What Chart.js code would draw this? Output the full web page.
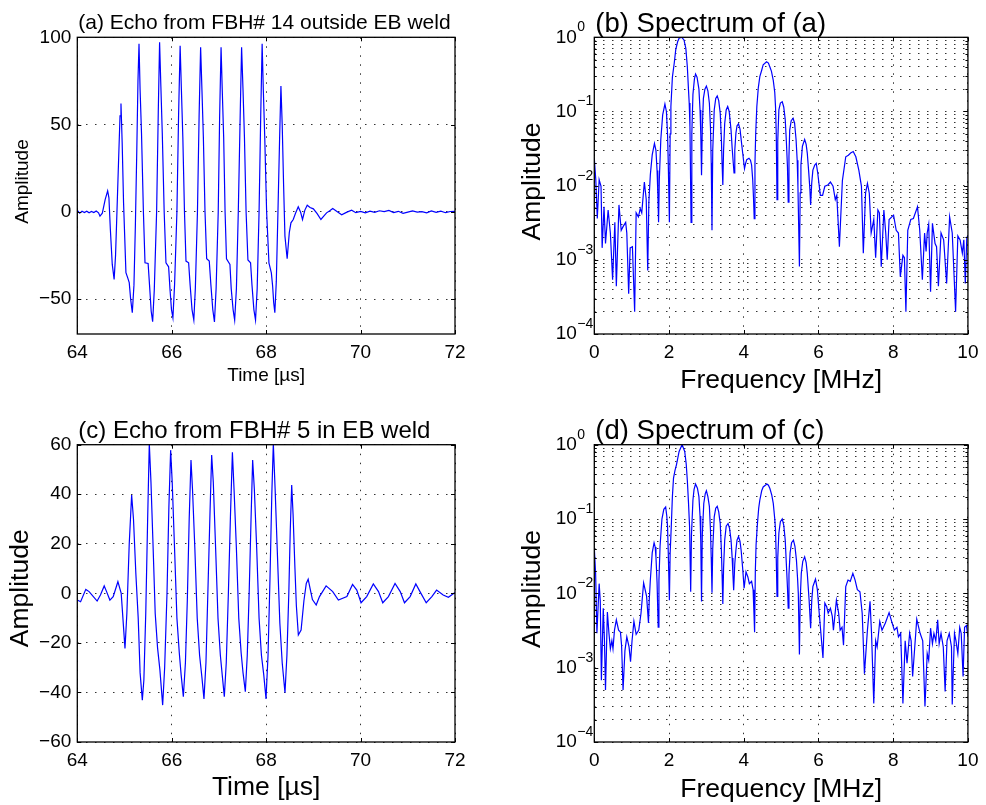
<!DOCTYPE html>
<html>
<head>
<meta charset="utf-8">
<title>Echoes and spectra</title>
<script src="https://cdn.jsdelivr.net/npm/chart.js@4.4.1/dist/chart.umd.min.js"></script>
<style>
  html, body { margin: 0; padding: 0; background: #fff; }
  #fig { position: relative; width: 986px; height: 805px; }
  #fig canvas { position: absolute; }
</style>
</head>
<body>
<div id="fig">
  <canvas id="panelA" width="493" height="400" style="left:0;top:0;width:493px;height:400px"></canvas>
  <canvas id="panelB" width="493" height="400" style="left:493px;top:0;width:493px;height:400px"></canvas>
  <canvas id="panelC" width="493" height="405" style="left:0;top:400px;width:493px;height:405px"></canvas>
  <canvas id="panelD" width="493" height="405" style="left:493px;top:400px;width:493px;height:405px"></canvas>
</div>
<script>
// ---- data ----
const timeTicks = [64, 66, 68, 70, 72];
const freqTicks = [0, 2, 4, 6, 8, 10];
const ampTicksA = [-50, 0, 50, 100];
const ampTicksC = [-60, -40, -20, 0, 20, 40, 60];
const logGrid = [1e-4, 2e-4, 3e-4, 4e-4, 5e-4, 6e-4, 7e-4, 8e-4, 9e-4,
                 1e-3, 2e-3, 3e-3, 4e-3, 5e-3, 6e-3, 7e-3, 8e-3, 9e-3,
                 1e-2, 2e-2, 3e-2, 4e-2, 5e-2, 6e-2, 7e-2, 8e-2, 9e-2,
                 0.1, 0.2, 0.3, 0.4, 0.5, 0.6, 0.7, 0.8, 0.9, 1];

// (a) echo from FBH# 14 outside EB weld
const timeA = [64.00, 64.05, 64.10, 64.15, 64.20, 64.25, 64.30, 64.35, 64.40, 64.45,
  64.48, 64.53, 64.59, 64.643, 64.67, 64.70, 64.74, 64.78, 64.81, 64.84,
  64.875, 64.905, 64.925, 64.95, 64.98, 65.03, 65.07, 65.10, 65.13, 65.165,
  65.20, 65.23, 65.26, 65.285, 65.307, 65.33, 65.36, 65.40, 65.434, 65.50,
  65.53, 65.565, 65.596, 65.63, 65.68, 65.715, 65.743, 65.77, 65.80, 65.84,
  65.878, 65.934, 65.965, 65.995, 66.025, 66.06, 66.11, 66.145, 66.178, 66.205,
  66.235, 66.27, 66.302, 66.358, 66.39, 66.43, 66.468, 66.50, 66.545, 66.58,
  66.612, 66.64, 66.67, 66.705, 66.74, 66.795, 66.83, 66.87, 66.905, 66.94,
  66.985, 67.015, 67.045, 67.07, 67.10, 67.13, 67.16, 67.233, 67.26, 67.30,
  67.333, 67.37, 67.41, 67.45, 67.48, 67.51, 67.54, 67.575, 67.614, 67.67,
  67.70, 67.74, 67.775, 67.81, 67.85, 67.885, 67.915, 67.94, 67.97, 68.01,
  68.059, 68.11, 68.137, 68.16, 68.184, 68.215, 68.25, 68.285, 68.313, 68.34,
  68.37, 68.398, 68.445, 68.49, 68.525, 68.574, 68.62, 68.68, 68.73, 68.77,
  68.82, 68.87, 68.93, 69.00, 69.08, 69.16, 69.22, 69.28, 69.34, 69.41,
  69.50, 69.60, 69.70, 69.81, 69.90, 70.00, 70.10, 70.20, 70.30, 70.40,
  70.50, 70.60, 70.70, 70.80, 70.90, 71.00, 71.10, 71.20, 71.30, 71.40,
  71.50, 71.60, 71.70, 71.80, 71.90, 72.00];
const ampA = [0.9, -0.8, 0.3, -0.4, 0.4, -0.5, 0.2, -0.4, 0.5, -0.6,
  -2.5, -0.8, 7.0, 12.0, 8.0, -10.0, -30.0, -38.7, -25.0, 0.0,
  30.0, 55.0, 62.0, 40.0, 5.0, -34.9, -38.0, -40.6, -50.0, -57.8,
  -42.0, -8.0, 35.0, 75.0, 96.3, 70.0, 45.0, 0.0, -29.2, -29.6,
  -42.0, -57.0, -62.9, -45.0, 0.0, 57.0, 97.2, 72.0, 45.0, 0.0,
  -29.2, -31.5, -45.0, -56.0, -60.6, -42.0, 0.0, 55.0, 95.1, 70.0,
  43.0, 0.0, -28.2, -29.2, -42.0, -56.0, -62.0, -44.0, 0.0, 55.0,
  94.3, 70.0, 43.0, 0.0, -26.9, -28.2, -42.0, -56.0, -63.1, -44.0,
  0.0, 55.0, 94.3, 70.0, 43.0, 0.0, -26.9, -30.1, -44.0, -56.0,
  -62.0, -44.0, 0.0, 55.0, 94.3, 70.0, 43.0, 0.0, -27.6, -29.2,
  -42.0, -56.0, -62.0, -44.0, 0.0, 55.0, 96.3, 70.0, 43.0, 0.0,
  -29.2, -35.0, -42.5, -52.0, -57.8, -40.0, 0.0, 42.0, 72.1, 50.0,
  15.0, -13.9, -26.9, -12.0, -6.3, -4.4, -1.0, 2.9, -0.2, -4.4,
  1.0, 3.8, 2.5, 1.7, -1.0, -4.4, -2.5, -0.6, 0.5, 1.9,
  0.2, -1.7, -0.3, 0.9, -0.5, 0.2, -0.6, 0.4, -0.3, 0.6,
  0.1, 0.8, -0.4, 0.3, -0.9, -0.2, 0.5, -0.2, 0.1, -0.6,
  0.5, -0.3, 0.4, -0.5, 0.2, 0.3];

// (b) spectrum of (a)
const freqB = [0.00, 0.04, 0.08, 0.13, 0.18, 0.21, 0.26, 0.30, 0.37, 0.43,
  0.49, 0.55, 0.59, 0.66, 0.72, 0.77, 0.84, 0.87, 0.92, 0.96,
  1.02, 1.08, 1.12, 1.18, 1.23, 1.27, 1.34, 1.39, 1.43, 1.46,
  1.50, 1.55, 1.61, 1.65, 1.68, 1.70, 1.72, 1.74, 1.78, 1.83,
  1.89, 1.93, 1.96, 1.98, 2.01, 2.03, 2.05, 2.09, 2.14, 2.18,
  2.23, 2.27, 2.34, 2.40, 2.45, 2.49, 2.52, 2.54, 2.56, 2.59,
  2.61, 2.64, 2.68, 2.71, 2.75, 2.80, 2.83, 2.85, 2.87, 2.89,
  2.92, 2.96, 3.00, 3.04, 3.08, 3.11, 3.13, 3.15, 3.17, 3.21,
  3.25, 3.29, 3.33, 3.37, 3.40, 3.42, 3.44, 3.46, 3.49, 3.53,
  3.57, 3.61, 3.66, 3.69, 3.72, 3.74, 3.76, 3.79, 3.82, 3.86,
  3.90, 3.93, 3.97, 4.02, 4.05, 4.08, 4.14, 4.18, 4.21, 4.24,
  4.26, 4.28, 4.30, 4.32, 4.35, 4.39, 4.43, 4.48, 4.52, 4.61,
  4.66, 4.70, 4.74, 4.79, 4.83, 4.85, 4.87, 4.89, 4.91, 4.94,
  4.98, 5.03, 5.07, 5.11, 5.14, 5.17, 5.19, 5.21, 5.23, 5.27,
  5.32, 5.36, 5.40, 5.43, 5.45, 5.49, 5.51, 5.53, 5.57, 5.63,
  5.67, 5.70, 5.74, 5.77, 5.79, 5.82, 5.85, 5.90, 5.94, 5.98,
  6.05, 6.11, 6.17, 6.25, 6.32, 6.39, 6.45, 6.49, 6.56, 6.64,
  6.73, 6.80, 6.86, 6.93, 7.00, 7.08, 7.15, 7.20, 7.26, 7.31,
  7.36, 7.41, 7.48, 7.53, 7.59, 7.63, 7.68, 7.75, 7.80, 7.84,
  7.89, 8.01, 8.08, 8.14, 8.19, 8.26, 8.30, 8.34, 8.39, 8.47,
  8.54, 8.65, 8.71, 8.78, 8.84, 8.88, 8.91, 8.95, 9.00, 9.05,
  9.12, 9.16, 9.21, 9.28, 9.35, 9.43, 9.51, 9.58, 9.65, 9.67,
  9.73, 9.79, 9.85, 9.89, 9.93, 9.97, 10.00];
const specB = [0.0234, 0.012, 0.0036, 0.012, 0.0098, 0.00145, 0.0052, 0.00166, 0.0047, 0.0023,
  0.00054, 0.0032, 0.00044, 0.0055, 0.0025, 0.0028, 0.0032, 0.0023, 0.00035, 0.00145,
  0.0015, 0.0002, 0.0043, 0.0038, 0.0049, 0.0043, 0.0112, 0.0065, 0.00072, 0.006,
  0.0141, 0.026, 0.037, 0.03, 0.016, 0.008, 0.0032, 0.012, 0.042, 0.09,
  0.126, 0.1, 0.05, 0.02, 0.0032, 0.05, 0.117, 0.29, 0.45, 0.68,
  0.87, 0.97, 1.0, 0.92, 0.71, 0.40, 0.2, 0.13, 0.063, 0.0032,
  0.05, 0.17, 0.275, 0.32, 0.29, 0.20, 0.105, 0.05, 0.0138, 0.06,
  0.15, 0.2, 0.22, 0.19, 0.129, 0.06, 0.02, 0.0025, 0.03, 0.105,
  0.15, 0.162, 0.14, 0.095, 0.045, 0.02, 0.0102, 0.03, 0.069, 0.105,
  0.117, 0.1, 0.056, 0.032, 0.02, 0.0148, 0.03, 0.051, 0.064, 0.068,
  0.058, 0.042, 0.028, 0.017, 0.02, 0.0224, 0.0234, 0.022, 0.019, 0.012,
  0.007, 0.0036, 0.02, 0.051, 0.117, 0.21, 0.295, 0.36, 0.427, 0.468,
  0.45, 0.398, 0.35, 0.263, 0.18, 0.117, 0.051, 0.0065, 0.04, 0.105,
  0.13, 0.135, 0.115, 0.078, 0.04, 0.018, 0.006, 0.025, 0.056, 0.075,
  0.081, 0.07, 0.042, 0.022, 0.0098, 0.00081, 0.008, 0.019, 0.034, 0.042,
  0.036, 0.0275, 0.015, 0.009, 0.0055, 0.011, 0.0162, 0.019, 0.020, 0.0148,
  0.0074, 0.0074, 0.0098, 0.0102, 0.0112, 0.0098, 0.0065, 0.0074, 0.0015, 0.0117,
  0.0245, 0.0257, 0.0275, 0.0288, 0.0245, 0.0162, 0.0098, 0.00123, 0.0079, 0.0107,
  0.0079, 0.0023, 0.0035, 0.00107, 0.0047, 0.0043, 0.00081, 0.0047, 0.0023, 0.001,
  0.0035, 0.004, 0.0025, 0.0023, 0.00059, 0.00115, 0.00107, 0.0002, 0.0025, 0.0035,
  0.0036, 0.0052, 0.0025, 0.00054, 0.0023, 0.0013, 0.0023, 0.003, 0.00037, 0.0031,
  0.00166, 0.0015, 0.00044, 0.0023, 0.00186, 0.00048, 0.0038, 0.0023, 0.00035, 0.0002,
  0.0021, 0.00186, 0.00123, 0.00186, 0.00048, 0.002, 0.0021];

// (c) echo from FBH# 5 in EB weld
const timeC = [64.00, 64.07, 64.18, 64.25, 64.34, 64.42, 64.49, 64.57, 64.62, 64.69,
  64.76, 64.86, 64.93, 65.01, 65.05, 65.10, 65.151, 65.19, 65.24, 65.29,
  65.33, 65.377, 65.41, 65.45, 65.49, 65.525, 65.56, 65.60, 65.65, 65.70,
  65.75, 65.808, 65.85, 65.90, 65.94, 65.977, 66.01, 66.06, 66.11, 66.16,
  66.20, 66.246, 66.29, 66.33, 66.37, 66.408, 66.44, 66.49, 66.54, 66.59,
  66.64, 66.683, 66.725, 66.765, 66.81, 66.846, 66.88, 66.93, 66.98, 67.03,
  67.07, 67.114, 67.155, 67.20, 67.245, 67.285, 67.32, 67.37, 67.42, 67.47,
  67.51, 67.559, 67.60, 67.64, 67.68, 67.714, 67.75, 67.80, 67.85, 67.90,
  67.95, 67.997, 68.04, 68.08, 68.12, 68.152, 68.19, 68.24, 68.29, 68.34,
  68.399, 68.44, 68.48, 68.51, 68.541, 68.57, 68.61, 68.64, 68.682, 68.74,
  68.80, 68.85, 68.89, 68.93, 68.98, 69.06, 69.13, 69.27, 69.41, 69.53,
  69.71, 69.83, 69.92, 70.01, 70.13, 70.27, 70.38, 70.47, 70.59, 70.73,
  70.84, 70.93, 71.05, 71.17, 71.27, 71.39, 71.51, 71.61, 71.75, 71.86,
  72.00];
const ampC = [-2.7, -3.4, 1.6, 0.7, -1.3, -3.1, -0.7, 3.0, 0.7, -2.7,
  -1.3, 4.7, 0.0, -22.2, -8.0, 20.0, 39.7, 30.0, 8.0, -10.0,
  -32.0, -43.1, -35.0, -8.0, 30.0, 60.5, 45.0, 22.0, -8.0, -22.0,
  -31.0, -45.1, -30.0, 0.0, 35.0, 57.8, 45.0, 18.0, -10.0, -24.0,
  -33.0, -41.7, -28.0, -3.0, 30.0, 53.8, 42.0, 18.0, -10.0, -25.0,
  -34.0, -42.6, -28.0, 0.0, 32.0, 55.8, 45.0, 18.0, -10.0, -25.0,
  -33.0, -41.7, -28.0, 0.0, 32.0, 56.9, 42.0, 18.0, -10.0, -24.0,
  -32.0, -39.7, -25.0, 0.0, 30.0, 53.8, 42.0, 18.0, -10.0, -25.0,
  -33.0, -42.6, -25.0, 5.0, 40.0, 60.5, 42.0, 15.0, -12.0, -28.0,
  -40.1, -25.0, 0.0, 25.0, 43.7, 32.0, 10.0, -5.0, -16.8, -14.8,
  -3.0, 4.0, 5.7, 2.0, -2.5, -4.7, -1.3, 3.0, 0.7, -2.7,
  -1.3, 3.6, 1.3, -3.8, -1.3, 3.8, 0.7, -3.8, -1.3, 4.0,
  0.7, -3.8, -1.3, 3.8, 0.3, -3.8, -1.3, 1.3, -0.7, -1.6,
  0.3];

// (d) spectrum of (c)
const freqD = [0.00, 0.035, 0.07, 0.13, 0.16, 0.19, 0.24, 0.27, 0.30, 0.35,
  0.39, 0.43, 0.47, 0.50, 0.54, 0.59, 0.65, 0.70, 0.73, 0.77,
  0.82, 0.87, 0.93, 0.97, 1.01, 1.06, 1.12, 1.19, 1.25, 1.32,
  1.40, 1.45, 1.47, 1.50, 1.55, 1.60, 1.63, 1.65, 1.68, 1.71,
  1.73, 1.76, 1.81, 1.86, 1.91, 1.94, 1.96, 1.98, 2.01, 2.03,
  2.06, 2.09, 2.12, 2.16, 2.20, 2.27, 2.35, 2.42, 2.46, 2.49,
  2.52, 2.55, 2.58, 2.60, 2.64, 2.67, 2.71, 2.76, 2.80, 2.83,
  2.85, 2.87, 2.89, 2.93, 2.97, 3.00, 3.04, 3.08, 3.11, 3.13,
  3.15, 3.17, 3.21, 3.25, 3.29, 3.33, 3.37, 3.40, 3.42, 3.44,
  3.46, 3.49, 3.53, 3.58, 3.62, 3.66, 3.69, 3.71, 3.73, 3.76,
  3.79, 3.82, 3.86, 3.90, 3.93, 3.97, 4.01, 4.06, 4.11, 4.15,
  4.21, 4.25, 4.27, 4.29, 4.31, 4.33, 4.36, 4.40, 4.43, 4.48,
  4.52, 4.62, 4.66, 4.70, 4.75, 4.79, 4.83, 4.85, 4.87, 4.89,
  4.91, 4.94, 4.98, 5.03, 5.07, 5.11, 5.14, 5.17, 5.19, 5.21,
  5.24, 5.28, 5.33, 5.37, 5.41, 5.44, 5.46, 5.49, 5.51, 5.54,
  5.58, 5.63, 5.67, 5.70, 5.75, 5.79, 5.82, 5.85, 5.92, 5.97,
  6.02, 6.12, 6.17, 6.22, 6.26, 6.32, 6.37, 6.40, 6.48, 6.54,
  6.58, 6.63, 6.67, 6.73, 6.79, 6.85, 6.92, 6.98, 7.04, 7.11,
  7.17, 7.23, 7.31, 7.38, 7.42, 7.48, 7.53, 7.57, 7.64, 7.70,
  7.79, 7.89, 7.97, 8.03, 8.10, 8.14, 8.20, 8.26, 8.32, 8.37,
  8.44, 8.48, 8.52, 8.63, 8.72, 8.79, 8.85, 8.91, 8.95, 9.00,
  9.05, 9.09, 9.14, 9.19, 9.23, 9.28, 9.34, 9.39, 9.44, 9.50,
  9.56, 9.58, 9.64, 9.68, 9.73, 9.78, 9.82, 9.87, 9.91, 9.96,
  10.00];
const specD = [0.041, 0.0186, 0.0029, 0.0135, 0.0079, 0.00068, 0.0063, 0.0025, 0.0005, 0.0056,
  0.003, 0.0018, 0.0023, 0.0018, 0.0032, 0.0044, 0.0032, 0.003, 0.002, 0.0005,
  0.0017, 0.0026, 0.0019, 0.0012, 0.0023, 0.0042, 0.0028, 0.0032, 0.0054, 0.0138,
  0.0091, 0.004, 0.008, 0.0151, 0.035, 0.048, 0.042, 0.031, 0.014, 0.0035,
  0.015, 0.043, 0.1, 0.135, 0.145, 0.11, 0.079, 0.035, 0.0081, 0.035,
  0.079, 0.2, 0.355, 0.45, 0.54, 0.81, 1.0, 0.81, 0.55, 0.33,
  0.17, 0.079, 0.0105, 0.06, 0.18, 0.25, 0.295, 0.26, 0.20, 0.11,
  0.05, 0.0078, 0.06, 0.162, 0.22, 0.24, 0.2, 0.148, 0.07, 0.03,
  0.0102, 0.04, 0.107, 0.14, 0.148, 0.125, 0.087, 0.04, 0.018, 0.0072,
  0.022, 0.052, 0.08, 0.087, 0.075, 0.052, 0.03, 0.018, 0.011, 0.025,
  0.038, 0.052, 0.058, 0.05, 0.038, 0.022, 0.0117, 0.0195, 0.0166, 0.0135,
  0.0145, 0.0112, 0.006, 0.003, 0.02, 0.045, 0.079, 0.14, 0.18, 0.24,
  0.27, 0.295, 0.285, 0.257, 0.21, 0.162, 0.1, 0.071, 0.03, 0.0091,
  0.03, 0.065, 0.092, 0.1, 0.083, 0.052, 0.025, 0.012, 0.0063, 0.018,
  0.035, 0.048, 0.052, 0.043, 0.028, 0.016, 0.01, 0.0015, 0.008, 0.0186,
  0.027, 0.031, 0.026, 0.0186, 0.008, 0.0034, 0.008, 0.0123, 0.0155, 0.0112,
  0.0054, 0.00135, 0.0074, 0.0066, 0.0054, 0.0063, 0.0049, 0.0032, 0.0081, 0.0054,
  0.0032, 0.0035, 0.002, 0.0123, 0.0151, 0.0145, 0.0186, 0.0151, 0.0112, 0.0105,
  0.0054, 0.00083, 0.0032, 0.0078, 0.0029, 0.00033, 0.0023, 0.0019, 0.0042, 0.0032,
  0.004, 0.0055, 0.004, 0.0032, 0.0035, 0.0026, 0.0029, 0.00033, 0.0023, 0.00115,
  0.0029, 0.0023, 0.00076, 0.0045, 0.0029, 0.0023, 0.0003, 0.00155, 0.00126, 0.0034,
  0.0021, 0.0029, 0.0023, 0.0044, 0.0021, 0.0029, 0.0019, 0.00048, 0.0023, 0.0029,
  0.0019, 0.00032, 0.0029, 0.0023, 0.00155, 0.0035, 0.0029, 0.00076, 0.0035, 0.0037,
  0.0026];

// ---- drawing ----
const FONT = '"Liberation Sans", Arial, Helvetica, sans-serif';
Chart.defaults.font.family = FONT;
Chart.defaults.color = '#000';

const isDecade = v => Math.abs(Math.log10(v) - Math.round(Math.log10(v))) < 1e-9;
const minus = v => String(v).replace('-', '\u2212');

// MATLAB-ish frame: box, inward ticks, power-of-ten labels, title and axis labels
const frame = {
  id: 'frame',
  afterDatasetsDraw(chart, args, o) {
    const { ctx, chartArea: a } = chart;
    const xs = chart.scales.x, ys = chart.scales.y;
    ctx.save();
    ctx.strokeStyle = '#000';
    ctx.lineWidth = 1;
    ctx.beginPath();
    xs.ticks.forEach(t => {
      const px = Math.round(xs.getPixelForValue(t.value)) + 0.5;
      ctx.moveTo(px, a.bottom); ctx.lineTo(px, a.bottom - 4);
      ctx.moveTo(px, a.top); ctx.lineTo(px, a.top + 4);
    });
    ys.ticks.forEach(t => {
      const py = Math.round(ys.getPixelForValue(t.value)) + 0.5;
      const len = (!o.logY || isDecade(t.value)) ? 4 : 2.5;
      ctx.moveTo(a.left, py); ctx.lineTo(a.left + len, py);
      ctx.moveTo(a.right, py); ctx.lineTo(a.right - len, py);
    });
    ctx.stroke();
    ctx.lineWidth = 1.3;
    ctx.strokeRect(a.left, a.top, a.right - a.left, a.bottom - a.top);

    ctx.fillStyle = '#000';
    if (o.logY) {
      ys.ticks.filter(t => isDecade(t.value)).forEach(t => {
        const py = ys.getPixelForValue(t.value);
        const x0 = a.left - 17.5;
        ctx.font = `19px ${FONT}`;
        ctx.textAlign = 'right'; ctx.textBaseline = 'middle';
        ctx.fillText('10', x0, py);
        ctx.font = `14px ${FONT}`;
        ctx.textAlign = 'left';
        ctx.fillText(minus(Math.round(Math.log10(t.value))), x0 + 0.5, py - 10);
      });
    }

    ctx.textBaseline = 'alphabetic';
    ctx.font = `${o.titleSize}px ${FONT}`;
    ctx.textAlign = 'left';
    ctx.fillText(o.title, a.left + 1, o.titleY);

    ctx.font = `${o.labelSize}px ${FONT}`;
    ctx.textAlign = 'center';
    ctx.fillText(o.xLabel, (a.left + a.right) / 2, o.xLabelY);

    ctx.translate(o.yLabelX, o.yLabelCY);
    ctx.rotate(-Math.PI / 2);
    ctx.fillText(o.yLabel, 0, 0);
    ctx.restore();
  }
};

function makePanel(id, p) {
  const canvas = document.getElementById(id);
  const W = canvas.width, H = canvas.height;
  const pts = p.xs.map((x, i) => ({ x, y: p.ys[i] }));
  const tickFont = { size: 19, lineHeight: 1.2 };
  const dots = { display: false, dash: [1.5, 7.5] };
  return new Chart(canvas, {
    type: 'line',
    data: { datasets: [{ data: pts, borderColor: '#0000ff', borderWidth: 1.2,
      pointRadius: 0, tension: 0, fill: false }] },
    options: {
      responsive: false, animation: false, events: [],
      layout: { padding: { left: 0, top: p.top, right: W - p.right, bottom: 0 } },
      plugins: { legend: { display: false }, tooltip: { enabled: false }, frame: p.frame },
      scales: {
        x: {
          type: 'linear', min: p.xTicks[0], max: p.xTicks[p.xTicks.length - 1],
          afterBuildTicks: s => { s.ticks = p.xTicks.map(v => ({ value: v })); },
          afterFit: s => { s.height = H - p.bottom; },
          grid: { color: 'rgba(0,0,0,0.8)', lineWidth: 1, drawTicks: false },
          border: dots,
          ticks: { font: tickFont, padding: 7.5, autoSkip: false, maxRotation: 0 }
        },
        y: p.logY ? {
          type: 'logarithmic', min: 1e-4, max: 1,
          afterBuildTicks: s => { s.ticks = logGrid.map(v => ({ value: v })); },
          afterFit: s => { s.width = p.left; },
          grid: { color: 'rgba(0,0,0,0.8)', lineWidth: 1, drawTicks: false },
          border: dots,
          ticks: { display: false, autoSkip: false }
        } : {
          type: 'linear', min: p.yMin, max: p.yMax,
          afterBuildTicks: s => { s.ticks = p.yTicks.map(v => ({ value: v })); },
          afterFit: s => { s.width = p.left; },
          grid: { color: 'rgba(0,0,0,0.8)', lineWidth: 1, drawTicks: false },
          border: dots,
          ticks: { font: tickFont, padding: 6, autoSkip: false, callback: v => minus(v) }
        }
      }
    },
    plugins: [frame]
  });
}

makePanel('panelA', {
  xs: timeA, ys: ampA, xTicks: timeTicks, yTicks: ampTicksA, yMin: -70, yMax: 100,
  left: 77.3, right: 455, top: 37.3, bottom: 334,
  frame: { title: '(a) Echo from FBH# 14 outside EB weld', titleSize: 21, titleY: 29,
    xLabel: 'Time [\u00b5s]', xLabelY: 381, yLabel: 'Amplitude', labelSize: 19,
    yLabelX: 27.5, yLabelCY: 181.5 }
});
makePanel('panelB', {
  xs: freqB, ys: specB, xTicks: freqTicks, logY: true,
  left: 101.3, right: 478.7, top: 37.3, bottom: 334,
  frame: { logY: true, title: '(b) Spectrum of (a)', titleSize: 27.5, titleY: 31.7,
    xLabel: 'Frequency [MHz]', xLabelY: 388.3, yLabel: 'Amplitude', labelSize: 26.5,
    yLabelX: 47, yLabelCY: 181.5 }
});
makePanel('panelC', {
  xs: timeC, ys: ampC, xTicks: timeTicks, yTicks: ampTicksC, yMin: -60, yMax: 60,
  left: 77.3, right: 455, top: 44.7, bottom: 342,
  frame: { title: '(c) Echo from FBH# 5 in EB weld', titleSize: 24, titleY: 38.3,
    xLabel: 'Time [\u00b5s]', xLabelY: 395, yLabel: 'Amplitude', labelSize: 26.5,
    yLabelX: 28, yLabelCY: 188.3 }
});
makePanel('panelD', {
  xs: freqD, ys: specD, xTicks: freqTicks, logY: true,
  left: 101.3, right: 478.7, top: 44.7, bottom: 342,
  frame: { logY: true, title: '(d) Spectrum of (c)', titleSize: 27.5, titleY: 39.3,
    xLabel: 'Frequency [MHz]', xLabelY: 396.7, yLabel: 'Amplitude', labelSize: 26.5,
    yLabelX: 47, yLabelCY: 189 }
});
</script>
</body>
</html>
